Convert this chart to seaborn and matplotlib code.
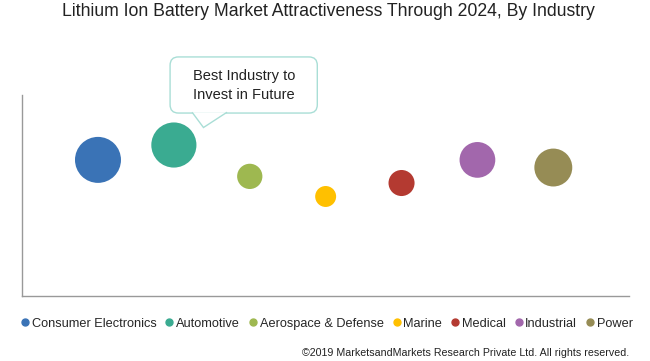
import seaborn as sns
import matplotlib.pyplot as plt
import pandas as pd
from matplotlib.lines import Line2D
from matplotlib.patches import Polygon, FancyBboxPatch

sns.set_style("white")
plt.rcParams['font.family'] = ['Liberation Sans', 'DejaVu Sans']

# Data (attractiveness score, bubble size = market size)
industries = ['Consumer Electronics', 'Automotive', 'Aerospace & Defense', 'Marine',
              'Medical', 'Industrial', 'Power']
attractiveness = [6.77, 7.51, 5.95, 4.95, 5.62, 6.77, 6.39]
market_size = [53, 51, 16, 11, 17, 32, 36]
colors = ['#3A73B6', '#3AAB91', '#9EB850', '#FFC000', '#B43A31', '#A267AC', '#968C55']

df = pd.DataFrame({
    'Industry': industries,
    'Position': range(1, len(industries) + 1),
    'Attractiveness': attractiveness,
    'Size': market_size,
})

fig = plt.figure(figsize=(6.5, 3.61), dpi=100)
ax = fig.add_axes([0.034, 0.18, 0.934, 0.557])

sns.scatterplot(data=df, x='Position', y='Attractiveness', hue='Industry',
                palette=colors, size='Size', sizes=(0, 1097), size_norm=(0, 53),
                edgecolor='none', alpha=1, legend=False, ax=ax)

ax.set_xlim(0, 8)
ax.set_ylim(0, 10)
ax.set_xticks([])
ax.set_yticks([])
ax.set_xlabel('')
ax.set_ylabel('')
for side in ['top', 'right']:
    ax.spines[side].set_visible(False)
for side in ['left', 'bottom']:
    ax.spines[side].set_color('#999999')
    ax.spines[side].set_linewidth(1)

# Callout box with pointer towards Automotive
box = FancyBboxPatch((1.95, 9.10), 1.94, 2.79,
                     boxstyle='round,pad=0,rounding_size=0.11', mutation_aspect=3.78,
                     fc='white', ec='#A9DED6', lw=1, clip_on=False, zorder=5)
ax.add_patch(box)
pointer = Polygon([(2.24, 9.14), (2.39, 8.38), (2.70, 9.14)], closed=False,
                  fc='white', ec='#A9DED6', lw=1, clip_on=False, zorder=6)
ax.add_patch(pointer)
ax.text(2.92, 10.48, 'Best Industry to\nInvest in Future', ha='center', va='center',
        fontsize=10.5, color='#222222', linespacing=1.5, clip_on=False, zorder=7)

fig.text(0.505, 0.968, 'Lithium Ion Battery Market Attractiveness Through 2024, By Industry',
         ha='center', va='center', fontsize=12.7, color='#222222')

handles = [Line2D([0], [0], marker='o', color='w', markerfacecolor=c,
                  markeredgecolor=c, markersize=5) for c in colors]
fig.legend(handles, industries, loc='center', bbox_to_anchor=(0.502, 0.103),
           ncol=7, frameon=False, fontsize=9.2, handletextpad=0.12,
           columnspacing=0.62, handlelength=0.8)

fig.text(0.968, 0.022, '\u00a92019 MarketsandMarkets Research Private Ltd. All rights reserved.',
         ha='right', va='center', fontsize=7.7, color='#222222')

fig.savefig('out.png', dpi=100)
